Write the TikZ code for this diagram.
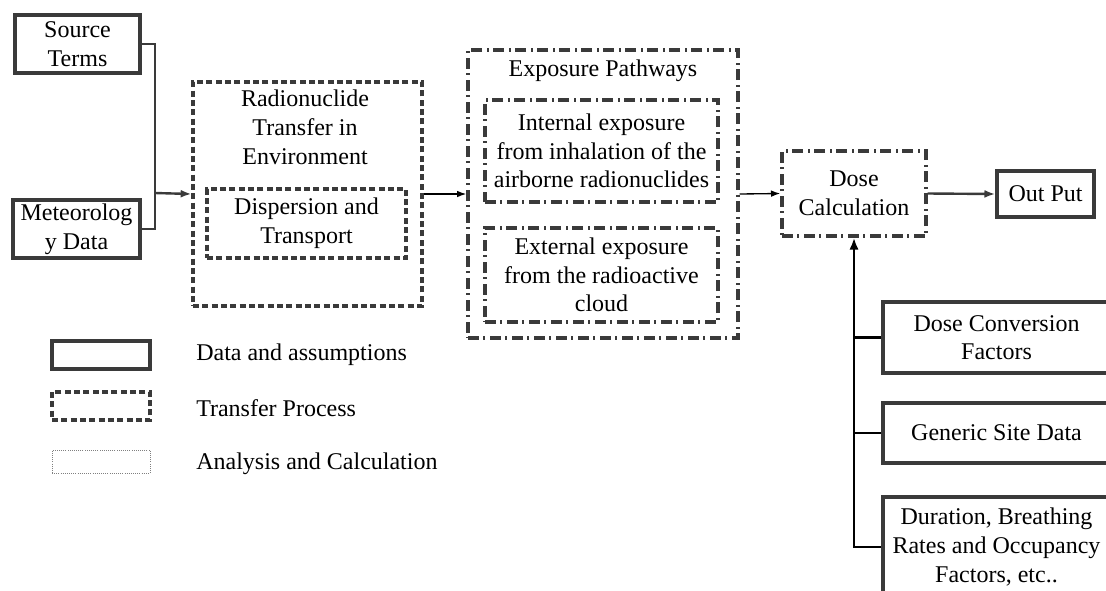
\documentclass[tikz,border=0pt]{standalone}
\usepackage{fontspec}
\setmainfont{Liberation Serif}
\usetikzlibrary{arrows.meta}

\definecolor{boxgray}{HTML}{3A3A3A}

\begin{document}
\begin{tikzpicture}[x=0.75pt,y=-0.75pt,
    txt/.style={font=\fontsize{18}{21.5}\selectfont, align=center, inner sep=0pt},
    databox/.style={txt, draw=boxgray, line width=2.8pt},
    procbox/.style={txt, draw=boxgray, line width=2.5pt, dash pattern=on 4.5pt off 2.5pt},
    calcbox/.style={txt, draw=boxgray, line width=2.5pt, dash pattern=on 8pt off 3.5pt on 1.5pt off 3.5pt},
    graylink/.style={draw=boxgray, line width=1.8pt, -{Latex[length=8pt,width=6pt]}},
    flowlink/.style={line width=1pt, -{Latex[length=7pt,width=5pt]}},
    feedlink/.style={line width=2.2pt}]

    % Fix the page size
    \useasboundingbox (0,0) rectangle (1106,590);
    \clip (0,0) rectangle (1106,590);

    % Input data
    \node[databox, minimum width=93.75pt, minimum height=43.5pt] (source) at (77.5,44) {Source\\Terms};
    \node[databox, minimum width=95.25pt, minimum height=43.5pt] (meteo) at (76.5,229) {Meteorolog\\y Data};

    % Transfer in environment
    \node[procbox, minimum width=171.75pt, minimum height=168pt] (radio) at (307.5,194) {};
    \node[txt, anchor=north] (radiotxt) at (305,90) {Radionuclide\\Transfer in\\Environment};
    \node[procbox, minimum width=149.25pt, minimum height=51.75pt] (disp) at (306.5,223.5) {Dispersion and\\Transport};

    % Exposure pathways
    \node[calcbox, minimum width=202.5pt, minimum height=216pt] (expo) at (603,194) {};
    \node[txt] (expotxt) at (603,71) {Exposure Pathways};
    \node[calcbox, minimum width=174.75pt, minimum height=76.5pt] (inhal) at (601.5,151) {Internal exposure\\from inhalation of the\\airborne radionuclides};
    \node[calcbox, minimum width=174.75pt, minimum height=70.5pt] (cloud) at (601.5,275) {External exposure\\from the radioactive\\cloud};

    % Dose and output
    \node[calcbox, minimum width=108pt, minimum height=63.75pt] (dose) at (854,193.5) {Dose\\Calculation};
    \node[databox, minimum width=72.75pt, minimum height=34.5pt] (output) at (1045.5,194) {Out Put};

    % Dose data
    \node[databox, minimum width=170.25pt, minimum height=53.25pt] (dosecv) at (996.5,337.5) {Dose Conversion\\Factors};
    \node[databox, minimum width=170.25pt, minimum height=45pt] (site) at (996.5,433) {Generic Site Data};
    \node[databox, minimum width=170.25pt, minimum height=75pt] (durat) at (996.5,547) {Duration, Breathing\\Rates and Occupancy\\Factors, etc..};

    % Connectors
    \coordinate (join) at (155,193);
    \draw[draw=boxgray, line width=1.8pt] (source.east) -| (join);
    \draw[draw=boxgray, line width=1.8pt] (meteo.east) -| (join);
    \draw[graylink] (join) -- (radio.west);
    \draw[flowlink] (radio.east) -- (expo.west);
    \draw[flowlink] (expo.east) -- (dose.west);
    \draw[graylink] (dose.east) -- (output.west);
    \draw[feedlink, -{Latex[length=9pt,width=7pt]}] (durat.west) -| (dose.south);
    \draw[feedlink] (dosecv.west) -- (dosecv.west -| dose.south);
    \draw[feedlink] (site.west) -- (site.west -| dose.south);

    % Legend
    \node[databox, minimum width=73.5pt, minimum height=21pt] (keydata) at (101,355) {};
    \node[procbox, minimum width=73.5pt, minimum height=21pt] (keyproc) at (101,406) {};
    \node[draw=gray, densely dotted, line width=0.6pt, minimum width=73.5pt, minimum height=17.25pt] (keycalc) at (101,461.5) {};
    \node[txt, anchor=west] (keydatatxt) at (196,355) {Data and assumptions};
    \node[txt, anchor=west] (keyproctxt) at (196,408) {Transfer Process};
    \node[txt, anchor=west] (keycalctxt) at (196,464) {Analysis and Calculation};
\end{tikzpicture}
\end{document}
